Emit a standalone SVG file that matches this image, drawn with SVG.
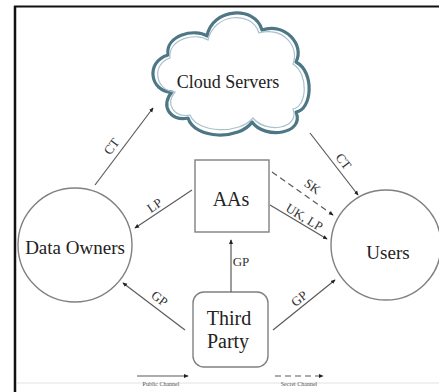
<svg xmlns="http://www.w3.org/2000/svg" width="439" height="392" viewBox="0 0 439 392">
  <defs>
    <marker id="tip" viewBox="0 0 8 8" refX="6" refY="4" markerWidth="4.5" markerHeight="4.5" orient="auto">
      <path d="M0,1 L7,4 L0,7 z" fill="#222"/>
    </marker>
    <style>
      .node { fill: #fff; stroke: #808080; stroke-width: 1.4; }
      .cloud { fill: #fff; stroke: #4d7785; stroke-width: 3.2; stroke-linejoin: round; }
      .cloud-inner { fill: none; stroke: #a9c2ca; stroke-width: 1.2; }
      .title { font-family: "Liberation Serif", "Times New Roman", serif; fill: #222; text-anchor: middle; }
      .lbl { font-family: "Liberation Serif", "Times New Roman", serif; font-size: 13px; fill: #333; text-anchor: middle; }
      .edge { fill: none; stroke: #5a5a5a; stroke-width: 1.2; marker-end: url(#tip); }
      .dash { stroke-dasharray: 6 4; }
      .legend { font-family: "Liberation Serif", "Times New Roman", serif; font-size: 6px; fill: #555; text-anchor: middle; }
    </style>
  </defs>

  <rect width="439" height="392" fill="#fff"/>

  <!-- frame -->
  <line x1="14" y1="6.5" x2="439" y2="6.5" stroke="#111" stroke-width="2"/>
  <line x1="15" y1="6" x2="15" y2="392" stroke="#111" stroke-width="2.5"/>
  <line x1="17" y1="383" x2="439" y2="383" stroke="#e2e2e2" stroke-width="1"/>

  <!-- nodes -->
  <g id="cloud-servers">
    <path class="cloud" d="M172,92 C150,92 145,62 168,55 C165,35 195,28 207,36 C212,8 255,5 262,30 C285,22 305,45 296,62 C315,72 312,110 296,112 C305,134 265,140 252,122 C240,140 195,140 188,118 C170,122 160,105 172,92 Z"/>
    <path class="cloud-inner" d="M175,92 C155,91 151,64 170,58 C168,39 195,32 208,40 C214,13 252,10 259,33 C282,26 300,46 293,64 C309,74 307,107 293,109 C300,129 266,134 253,118 C240,134 198,134 190,115 C174,118 165,104 175,92 Z"/>
    <text class="title" x="228" y="88" font-size="18">Cloud Servers</text>
  </g>

  <g id="aas">
    <rect class="node" x="195" y="160" width="74" height="72"/>
    <text class="title" x="231" y="206" font-size="20">AAs</text>
  </g>

  <g id="data-owners">
    <circle class="node" cx="75" cy="245" r="57"/>
    <text class="title" x="75" y="254" font-size="19">Data Owners</text>
  </g>

  <g id="users">
    <circle class="node" cx="386" cy="245" r="55"/>
    <text class="title" x="388" y="259" font-size="19">Users</text>
  </g>

  <g id="third-party">
    <rect class="node" x="193" y="292" width="75" height="75" rx="11"/>
    <text class="title" x="229" y="325" font-size="20">Third</text>
    <text class="title" x="228" y="348" font-size="20">Party</text>
  </g>

  <!-- connectors -->
  <g id="connectors">
    <line class="edge" x1="95" y1="185" x2="153" y2="108"/>
    <text class="lbl" transform="translate(115,149) rotate(-53)">CT</text>

    <line class="edge" x1="310" y1="133" x2="358" y2="195"/>
    <text class="lbl" transform="translate(340,164) rotate(52)">CT</text>

    <line class="edge" x1="192" y1="190" x2="135" y2="228"/>
    <text class="lbl" transform="translate(157,209) rotate(-34)">LP</text>

    <line class="edge dash" x1="272" y1="172" x2="333" y2="215"/>
    <text class="lbl" transform="translate(310,190) rotate(35)">SK</text>

    <line class="edge" x1="270" y1="205" x2="327" y2="239"/>
    <text class="lbl" transform="translate(302,221) rotate(31)">UK, LP</text>

    <line class="edge" x1="231" y1="292" x2="231" y2="240"/>
    <text class="lbl" x="241" y="266" font-size="10">GP</text>

    <line class="edge" x1="185" y1="330" x2="123" y2="283"/>
    <text class="lbl" transform="translate(157,302) rotate(37)">GP</text>

    <line class="edge" x1="273" y1="330" x2="335" y2="280"/>
    <text class="lbl" transform="translate(302,302) rotate(-39)">GP</text>
  </g>

  <!-- legend -->
  <g id="legend">
    <line class="edge" x1="137" y1="376" x2="188" y2="376" stroke-width="1"/>
    <text class="legend" x="161" y="386">Public Channel</text>
    <line class="edge dash" x1="275" y1="376" x2="323" y2="376" stroke-width="1" stroke-dasharray="4 3"/>
    <text class="legend" x="299" y="386">Secret Channel</text>
  </g>
</svg>
